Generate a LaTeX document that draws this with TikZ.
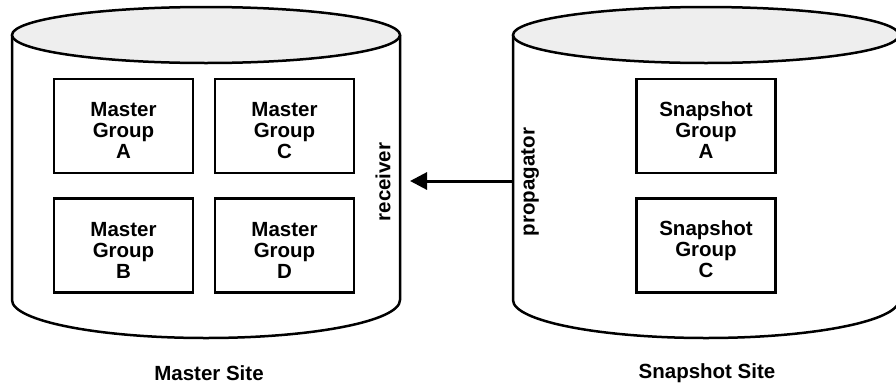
\documentclass[tikz,border=0pt]{standalone}
\usepackage{fontspec}
\setmainfont{Liberation Sans}
\usetikzlibrary{arrows.meta}
\definecolor{topgrey}{HTML}{EEEEEE}
\newcommand{\grplines}[3]{\rule{0pt}{23pt}#1\\#2\\#3}
\tikzset{
  cyl/.style={line width=2.5pt},
  grp/.style={draw, line width=2.4pt, minimum width=139pt, minimum height=94pt,
    inner sep=0pt, align=center, font=\bfseries\fontsize{20.5}{21}\selectfont},
  lbl/.style={font=\bfseries\fontsize{20.5}{21}\selectfont}
}
\begin{document}
\begin{tikzpicture}[x=1pt,y=-1pt]
            \useasboundingbox (0,0) rectangle (896,386);
            \clip (0,0) rectangle (896,386);
            \begin{scope}
                \draw[cyl] (12,35) -- (12,300)
                arc[start angle=180, end angle=0, x radius=194, y radius=38] -- (400,35);
                \draw[cyl, fill=topgrey] (206,35) ellipse[x radius=194, y radius=28];
                \node[grp] (mga) at (123.5,126) {\grplines{Master}{Group}{A}};
                \node[grp] (mgc) at (284.5,126) {\grplines{Master}{Group}{C}};
                \node[grp] (mgb) at (123.5,245.5) {\grplines{Master}{Group}{B}};
                \node[grp] (mgd) at (284.5,245.5) {\grplines{Master}{Group}{D}};
                \node[lbl, rotate=90] (receiver) at (383,182) {receiver};
                \node[lbl] (msite) at (209,373) {Master Site};
                \coordinate (recv) at (410,181);
            \end{scope}
            \begin{scope}[xshift=500pt]
                \draw[cyl] (13,35) -- (13,300)
                arc[start angle=180, end angle=0, x radius=193, y radius=38] -- (399,35);
                \draw[cyl, fill=topgrey] (206,35) ellipse[x radius=193, y radius=28];
                \node[grp] (sga) at (206,126) {\grplines{Snapshot}{Group}{A}};
                \node[grp] (sgc) at (206,245.5) {\grplines{Snapshot}{Group}{C}};
                \node[lbl, rotate=90] (propagator) at (30,182) {propagator};
                \node[lbl] (ssite) at (207,373) {Snapshot Site};
                \coordinate (prop) at (13,181);
            \end{scope}
            \draw[line width=3pt, -{Triangle[length=17pt, width=17pt]}] (prop) -- (recv);
\end{tikzpicture}
\end{document}
